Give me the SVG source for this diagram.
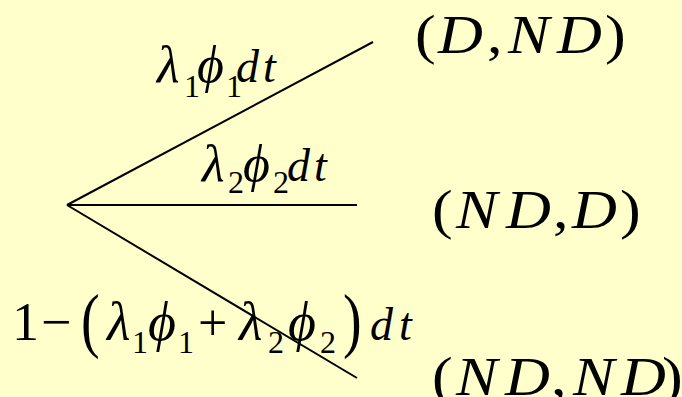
<svg xmlns="http://www.w3.org/2000/svg" width="682" height="397" viewBox="0 0 682 397">
<style>
text{font-family:"Liberation Serif","Times New Roman",serif;fill:#000}
.g{font-size:52px;font-style:italic}
.gb{font-size:54px;font-style:italic}
.l{font-size:46px;font-style:italic}
.s{font-size:32px}
.n{font-size:54px}
.p{font-size:56px}
.r{font-size:52px}
.rr{font-size:54px}
.ri{font-size:54px;font-style:italic}
.edge{stroke:#000;stroke-width:2;fill:none}
</style>
<rect width="682" height="397" fill="#FFFFCC"/>
<g id="connectors">
<line class="edge" x1="67" y1="205" x2="373" y2="42"/>
<line class="edge" x1="67" y1="205" x2="357" y2="205"/>
<line class="edge" x1="67" y1="205" x2="357" y2="378"/>
</g>
<g id="label-top">
<text><tspan class="g" x="157" y="82">λ</tspan><tspan class="s" x="184" y="97">1</tspan><tspan class="g" x="197" y="82">ϕ</tspan><tspan class="s" x="226" y="97">1</tspan><tspan class="l" x="236" y="82">d</tspan><tspan class="l" x="263" y="82">t</tspan></text>
</g>
<g id="label-mid">
<text><tspan class="g" x="202" y="181">λ</tspan><tspan class="s" x="228" y="193">2</tspan><tspan class="g" x="243" y="181">ϕ</tspan><tspan class="s" x="273" y="193">2</tspan><tspan class="l" x="287" y="181">d</tspan><tspan class="l" x="314" y="181">t</tspan></text>
</g>
<g id="label-bottom">
<text><tspan class="n" x="12" y="340">1</tspan><tspan class="n" x="41" y="340">−</tspan></text>
<text class="p" transform="translate(81,344) scale(1,1.3)">(</text>
<text><tspan class="gb" x="107" y="340">λ</tspan><tspan class="s" x="132" y="353">1</tspan><tspan class="gb" x="148" y="340">ϕ</tspan><tspan class="s" x="178" y="353">1</tspan><tspan class="r" x="198" y="340">+</tspan><tspan class="gb" x="239" y="340">λ</tspan><tspan class="s" x="268" y="353">2</tspan><tspan class="gb" x="288" y="340">ϕ</tspan><tspan class="s" x="320" y="353">2</tspan></text>
<text class="p" transform="translate(343,344) scale(1,1.3)">)</text>
<text><tspan class="l" x="370" y="340">d</tspan><tspan class="l" x="399" y="340">t</tspan></text>
</g>
<g id="node-d-nd" transform="translate(415,0) scale(1.15,1)">
<text><tspan class="rr" x="0" y="53">(</tspan><tspan class="ri" x="20" y="53">D</tspan><tspan class="rr" x="62.6" y="53">,</tspan><tspan class="ri" x="80.9" y="53">N</tspan><tspan class="ri" x="123.5" y="53">D</tspan><tspan class="rr" x="165.2" y="53">)</tspan></text>
</g>
<g id="node-nd-d" transform="translate(432,0) scale(1.15,1)">
<text><tspan class="rr" x="0" y="228">(</tspan><tspan class="ri" x="20.9" y="228">N</tspan><tspan class="ri" x="64.3" y="228">D</tspan><tspan class="rr" x="105.2" y="228">,</tspan><tspan class="ri" x="121.7" y="228">D</tspan><tspan class="rr" x="163.5" y="228">)</tspan></text>
</g>
<g id="node-nd-nd" transform="translate(432,0) scale(1.15,1)">
<text><tspan class="rr" x="0" y="395">(</tspan><tspan class="ri" x="20.9" y="395">N</tspan><tspan class="ri" x="63.5" y="395">D</tspan><tspan class="rr" x="103.5" y="395">,</tspan><tspan class="ri" x="122.6" y="395">N</tspan><tspan class="ri" x="164.3" y="395">D</tspan><tspan class="rr" x="200" y="395">)</tspan></text>
</g>
</svg>
